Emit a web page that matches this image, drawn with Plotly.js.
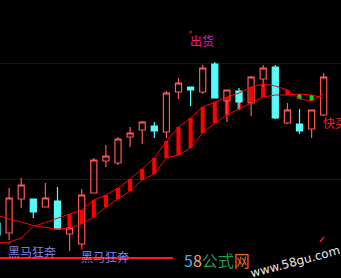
<!DOCTYPE html>
<html><head><meta charset="utf-8">
<script src="https://cdn.plot.ly/plotly-3.0.1.min.js"></script>
<style>html,body{margin:0;padding:0;background:#000;}#chart{width:341px;height:278px;}</style>
</head><body><div id="chart"></div>
<script>
// day index (28 trading days, first one partly off-screen)
const days = [0,1,2,3,4,5,6,7,8,9,10,11,12,13,14,15,16,17,18,19,20,21,22,23,24,25,26,27];
const open  = [7.20,6.80,8.16,8.16,7.84,8.08,6.76,6.36,8.40,9.68,9.60,10.64,10.92,11.08,10.84,12.44,12.64,12.44,13.56,12.08,12.48,12.00,12.96,13.44,11.20,11.16,10.96,11.52];
const high  = [7.24,8.60,9.00,8.16,8.80,8.64,7.04,8.56,9.80,10.32,10.64,11.04,11.28,11.24,12.48,13.00,12.64,13.52,13.64,12.52,12.60,13.08,13.52,13.52,12.00,11.76,11.72,13.20];
const low   = [6.68,6.52,7.80,7.40,7.84,6.96,6.08,6.16,8.40,9.44,9.52,10.24,10.36,10.60,10.60,12.16,11.88,12.36,12.20,11.24,11.72,11.48,12.64,11.36,11.16,10.76,10.60,11.48];
const close = [6.72,8.20,8.72,7.64,8.20,6.96,7.00,8.32,9.72,9.88,10.56,10.80,11.24,10.88,12.40,12.80,12.52,13.40,12.20,12.52,12.04,13.04,13.40,11.40,11.72,10.88,11.72,13.04];
// fast and slow moving lines
const fastMA = [6.40,6.44,6.60,7.06,7.22,7.40,7.56,7.72,8.12,8.32,8.60,8.96,9.36,9.80,10.48,11.04,11.40,11.84,12.04,12.24,12.40,12.64,12.76,12.68,12.52,12.16,12.08,12.36];
const slowMA = [7.52,7.36,7.24,7.10,7.02,6.96,7.00,7.16,7.44,7.84,8.16,8.48,8.92,9.16,9.80,9.92,10.20,10.80,11.20,11.52,11.76,12.00,12.24,12.32,12.32,12.36,12.32,12.20];
// ribbon state per day: 0 none, 1 red, 2 green
const ribbon = [0,0,0,0,0,0,1,1,1,1,1,1,1,1,1,1,1,1,1,1,1,1,1,1,1,2,2,0];
// text signals
const sigText  = ["黑马狂奔","黑马狂奔","出货","快买"];
const sigDay   = [1,7,16,27];
const sigPrice = [6.40,6.20,14.84,11.56];
const sigColor = ["#7d84e8","#7d84e8","#f0169e","#ff2020"];
const supportLevel = 5.80, supportFrom = -1, supportTo = 14.55;
const guideLevels = [8.96,13.60];
const tickX = [26.69,27.02], tickY = [6.44,6.64];

const redX=[],redB=[],redH=[],grnX=[],grnB=[],grnH=[];
days.forEach((d,i)=>{
  const lo=Math.min(fastMA[i],slowMA[i]), hi=Math.max(fastMA[i],slowMA[i]);
  if(ribbon[i]===1){redX.push(d);redB.push(lo);redH.push(hi-lo);}
  if(ribbon[i]===2){grnX.push(d);grnB.push(lo);grnH.push(hi-lo);}
});

const traces = [
  {type:'bar',x:redX,y:redH,base:redB,width:0.34,marker:{color:'#ff0000',line:{width:0}},hoverinfo:'skip'},
  {type:'bar',x:grnX,y:grnH,base:grnB,width:0.34,marker:{color:'#00e000',line:{width:0}},hoverinfo:'skip'},
  {type:'candlestick',x:days,open:open,high:high,low:low,close:close,whiskerwidth:0,
   increasing:{line:{color:'#ff5656',width:1.2},fillcolor:'rgba(0,0,0,0)'},
   decreasing:{line:{color:'#54fcfc',width:1.2},fillcolor:'#54fcfc'},hoverinfo:'skip'},
  {type:'scatter',mode:'lines',x:days,y:slowMA,line:{color:'#ff0000',width:1},hoverinfo:'skip'},
  {type:'scatter',mode:'lines',x:days,y:fastMA,line:{color:'#ff0000',width:1},hoverinfo:'skip'},
  {type:'scatter',mode:'lines',x:[supportFrom,supportTo],y:[supportLevel,supportLevel],line:{color:'#ff1818',width:2},hoverinfo:'skip'},
  {type:'scatter',mode:'lines',x:tickX,y:tickY,line:{color:'#ff1818',width:1.5},hoverinfo:'skip'},
  {type:'scatter',mode:'markers',x:sigDay.slice(0,3),y:sigPrice.slice(0,3),marker:{symbol:'square',size:2.5,color:'#d00000'},hoverinfo:'skip'}
];

const annotations = sigText.map((t,i)=>({
  x:sigDay[i],y:sigPrice[i],xref:'x',yref:'y',text:t,showarrow:false,
  xanchor:'left',yanchor:'top',xshift:-3,yshift:2,
  font:{family:'Noto Sans CJK SC',size:12,color:sigColor[i]}
}));
annotations.push({
  xref:'paper',yref:'paper',x:182/341,y:1-259.5/278,xanchor:'left',yanchor:'middle',showarrow:false,
  text:'<span style="color:#3cb6e8">5</span><span style="color:#f2a46a">8</span><span style="color:#1f9a4e">公式</span><span style="color:#e8661a">网</span>',
  font:{family:'Noto Sans CJK SC',size:16,color:'#ffffff'}
});
annotations.push({
  xref:'paper',yref:'paper',x:294.5/341,y:1-261.5/278,xanchor:'center',yanchor:'middle',showarrow:false,
  text:'www.58gu.com',textangle:-15,
  font:{family:'DejaVu Sans',size:12,color:'#e8e8e8'}
});

const layout = {
  width:341,height:278,margin:{l:0,r:0,t:0,b:0},
  paper_bgcolor:'#000000',plot_bgcolor:'#000000',showlegend:false,
  barmode:'overlay',boxgap:0.28,
  xaxis:{range:[0.248,28.43],showgrid:false,zeroline:false,showticklabels:false,showline:false,ticks:'',rangeslider:{visible:false},fixedrange:true},
  yaxis:{range:[5,16.12],tickmode:'array',tickvals:guideLevels,showgrid:true,gridcolor:'#420808',gridwidth:1,zeroline:false,showticklabels:false,showline:false,ticks:'',fixedrange:true},
  annotations:annotations
};
Plotly.newPlot('chart',traces,layout,{displayModeBar:false,staticPlot:true});
</script></body></html>
